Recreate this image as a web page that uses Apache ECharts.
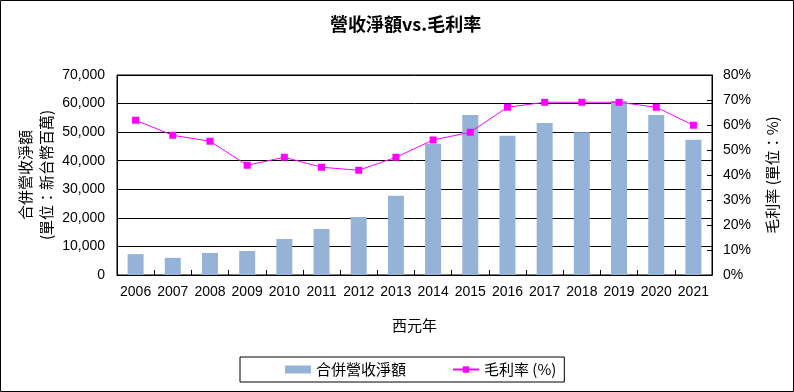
<!DOCTYPE html>
<html>
<head>
<meta charset="utf-8">
<script src="https://cdn.jsdelivr.net/npm/echarts@6/dist/echarts.min.js"></script>
<style>
html,body{margin:0;padding:0;background:#fff;}
#c{width:794px;height:392px;}
</style>
</head>
<body>
<div id="c"></div>
<script>
const years = ['2006','2007','2008','2009','2010','2011','2012','2013','2014','2015','2016','2017','2018','2019','2020','2021'];
const revenue = [7300, 6000, 7700, 8400, 12600, 16100, 20300, 27700, 45900, 56000, 48700, 53200, 50000, 60900, 56000, 47300];
const grossMargin = [61.9, 55.9, 53.5, 43.9, 47.1, 43.1, 41.9, 47.1, 54.0, 57.1, 67.1, 69.1, 69.1, 69.1, 67.1, 59.9];

const cjk = '"Noto Sans CJK TC", "Noto Sans CJK SC", sans-serif';
const num = '"Liberation Sans", Arial, sans-serif';

const chart = echarts.init(document.getElementById('c'), null, {renderer: 'canvas'});
chart.setOption({
  animation: false,
  backgroundColor: '#fff',
  title: {
    text: '營收淨額vs.毛利率',
    left: 325,
    top: 10,
    textStyle: {fontFamily: cjk, fontSize: 18, fontWeight: 'bold', color: '#000'}
  },
  graphic: [{
    type: 'rect',
    shape: {x: 0.5, y: 0.5, width: 793, height: 391},
    style: {fill: 'none', stroke: '#000', lineWidth: 1},
    silent: true
  }],
  legend: {
    left: 240,
    top: 357,
    orient: 'horizontal',
    padding: [5, 8, 5, 45],
    borderColor: '#000',
    borderWidth: 1,
    itemGap: 46,
    itemWidth: 26,
    itemHeight: 8,
    textStyle: {fontFamily: cjk, fontSize: 15, color: '#000'},
    data: [
      {name: '合併營收淨額', icon: 'rect'},
      {name: '毛利率 (%)'}
    ]
  },
  grid: {
    left: 117, right: 82, top: 75, bottom: 117,
    show: true, borderColor: '#000', borderWidth: 1,
    containLabel: false
  },
  xAxis: {
    type: 'category',
    data: years,
    name: '西元年',
    nameLocation: 'middle',
    nameGap: 43,
    nameMoveOverlap: false,
    nameTextStyle: {fontFamily: cjk, fontSize: 15, color: '#000'},
    axisLine: {lineStyle: {color: '#000', width: 1}},
    axisTick: {show: true, inside: true, length: 5, lineStyle: {color: '#000'}},
    axisLabel: {fontFamily: num, fontSize: 14, color: '#000', margin: 10, interval: 0}
  },
  yAxis: [{
    type: 'value',
    min: 0, max: 70000, interval: 10000,
    name: '合併營收淨額\n(單位：新台幣百萬)',
    nameLocation: 'middle',
    nameRotate: 90,
    nameGap: 60,
    nameMoveOverlap: false,
    nameTextStyle: {fontFamily: cjk, fontSize: 15, color: '#000', lineHeight: 21},
    axisLine: {show: true, lineStyle: {color: '#000'}},
    axisTick: {show: false},
    splitLine: {show: true, lineStyle: {color: '#000', width: 1}},
    axisLabel: {
      fontFamily: num, fontSize: 14, color: '#000', margin: 12,
      formatter: v => v.toLocaleString('en-US')
    }
  }, {
    type: 'value',
    min: 0, max: 80, interval: 10,
    position: 'right',
    name: '毛利率 (單位：%)',
    nameLocation: 'middle',
    nameRotate: 90,
    nameGap: 53,
    nameMoveOverlap: false,
    nameTextStyle: {fontFamily: cjk, fontSize: 15, color: '#000'},
    axisLine: {show: true, lineStyle: {color: '#000'}},
    axisTick: {show: true, inside: true, length: 5, lineStyle: {color: '#000'}},
    splitLine: {show: false},
    axisLabel: {fontFamily: num, fontSize: 14, color: '#000', margin: 11, formatter: '{value}%'}
  }],
  series: [{
    name: '合併營收淨額',
    type: 'bar',
    data: revenue,
    barWidth: 16,
    itemStyle: {color: '#95B3D7'},
    yAxisIndex: 0
  }, {
    name: '毛利率 (%)',
    type: 'line',
    data: grossMargin,
    yAxisIndex: 1,
    symbol: 'rect',
    symbolSize: 7,
    lineStyle: {color: '#FF00FF', width: 1},
    itemStyle: {color: '#FF00FF'}
  }]
});
</script>
</body>
</html>
